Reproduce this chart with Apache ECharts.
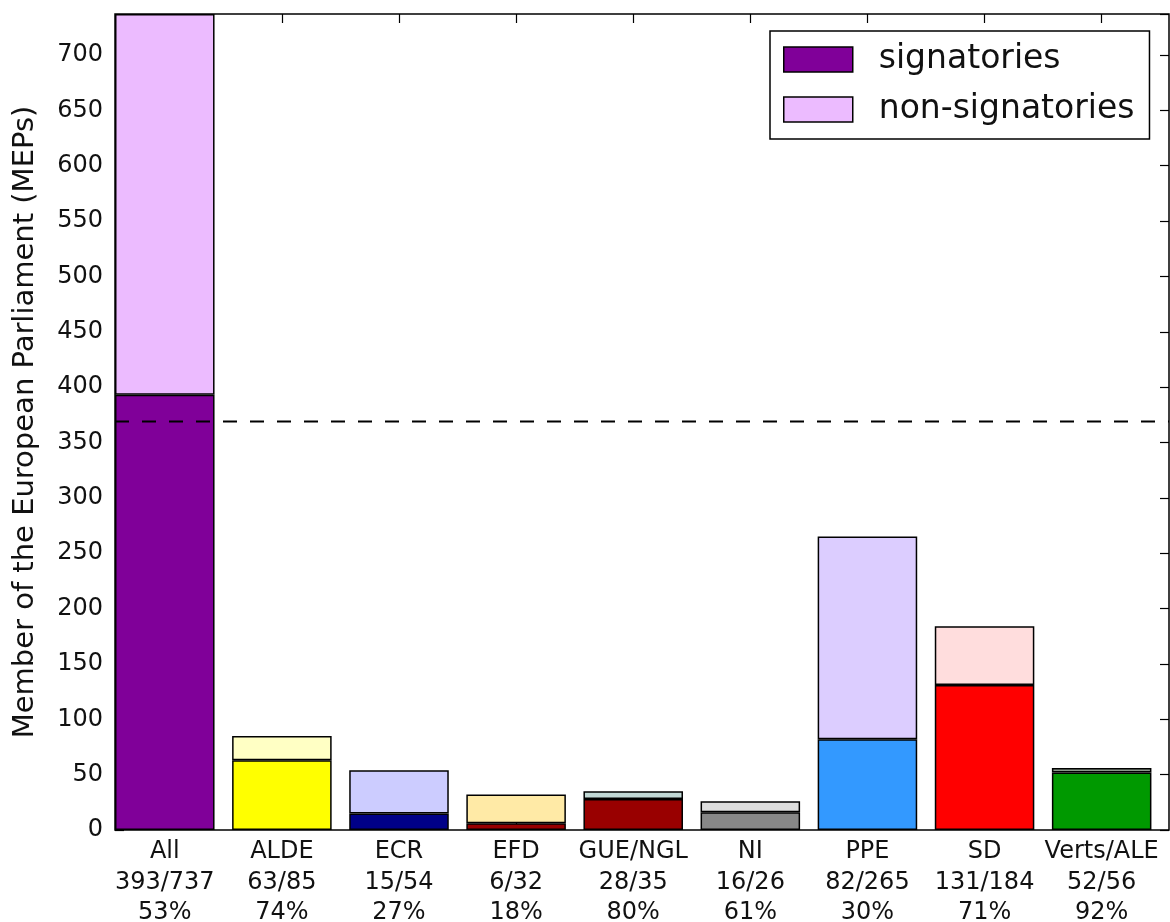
<!DOCTYPE html>
<html>
<head>
<meta charset="utf-8">
<script src="https://cdn.jsdelivr.net/npm/echarts@6/dist/echarts.min.js"></script>
<style>
html,body{margin:0;padding:0;background:#fff;}
#chart{width:1170px;height:922px;}
</style>
</head>
<body>
<div id="chart"></div>
<script>
// ---- data ----
var groups = ['All', 'ALDE', 'ECR', 'EFD', 'GUE/NGL', 'NI', 'PPE', 'SD', 'Verts/ALE'];
var signatories = [393, 63, 15, 6, 28, 16, 82, 131, 52];
var nonSignatories = [344, 22, 39, 26, 7, 10, 183, 53, 4];
var totals = [737, 85, 54, 32, 35, 26, 265, 184, 56];
var percents = [53, 74, 27, 18, 80, 61, 30, 71, 92];
var majority = 369;
var yTicks = [0, 50, 100, 150, 200, 250, 300, 350, 400, 450, 500, 550, 600, 650, 700];
var sigColors = ['#800099', '#ffff00', '#000088', '#990000', '#990000', '#888888', '#3399ff', '#ff0000', '#009900'];
var nonColors = ['#ecbbff', '#ffffc4', '#ccccff', '#ffeaa6', '#c2d9d6', '#dddddd', '#dccdff', '#ffdddd', '#8a9a8a'];

var categoryLabels = groups.map(function (g, i) {
  return g + '\n' + signatories[i] + '/' + totals[i] + '\n' + percents[i] + '%';
});

var FONT = 'DejaVu Sans';
var TXT = '#111';

var chart = echarts.init(document.getElementById('chart'), null, {renderer: 'canvas'});

var plotTop = 14, plotBottom = 830, plotLeft = 115, plotWidth = 1054;
var unit = plotWidth / 9;
var catLeft = plotLeft + 0.425 * unit - 0.5 * unit;

var option = {
  backgroundColor: '#fff',
  animation: false,
  textStyle: {fontFamily: FONT, color: TXT},
  grid: [
    {left: plotLeft, top: plotTop, width: plotWidth, height: plotBottom - plotTop,
     outerBoundsMode: 'none', containLabel: false,
     show: true, borderColor: '#000', borderWidth: 1.5, backgroundColor: 'transparent'},
    {left: catLeft, top: plotTop, width: plotWidth, height: plotBottom - plotTop,
     outerBoundsMode: 'none', containLabel: false}
  ],
  legend: {
    data: ['signatories', 'non-signatories'],
    orient: 'vertical',
    left: 770, top: 31,
    padding: [12, 15, 13, 13],
    itemWidth: 69, itemHeight: 25, itemGap: 17,
    icon: 'rect',
    backgroundColor: '#fff',
    borderColor: '#000', borderWidth: 1.5,
    itemStyle: {borderColor: '#000', borderWidth: 1.5},
    textStyle: {fontFamily: FONT, fontSize: 33, color: TXT, padding: [0, 0, 0, 21], lineHeight: 33}
  },
  xAxis: [
    {type: 'value', gridIndex: 0, min: 0, max: 9, show: false},
    {type: 'category', gridIndex: 1, position: 'bottom', data: categoryLabels,
     axisLine: {show: false},
     axisTick: {show: true, inside: true, alignWithLabel: true, length: 9, lineStyle: {color: '#000', width: 1.2}},
     axisLabel: {fontFamily: FONT, fontSize: 24, color: TXT, lineHeight: 30.5, margin: 7, interval: 0},
     splitLine: {show: false}},
    {type: 'category', gridIndex: 1, position: 'top', data: categoryLabels,
     axisLine: {show: false},
     axisTick: {show: true, inside: true, alignWithLabel: true, length: 9, lineStyle: {color: '#000', width: 1.2}},
     axisLabel: {show: false}, splitLine: {show: false}}
  ],
  yAxis: [
    {type: 'value', gridIndex: 0, position: 'left', min: 0, max: 737, interval: 50,
     name: 'Member of the European Parliament (MEPs)', nameLocation: 'middle', nameGap: 75,
     nameTextStyle: {fontFamily: FONT, fontSize: 29, color: TXT},
     axisLine: {show: false},
     axisTick: {show: true, inside: true, length: 9, lineStyle: {color: '#000', width: 1.2}},
     axisLabel: {fontFamily: FONT, fontSize: 24, color: TXT, margin: 12, showMaxLabel: false,
       formatter: function (v) { return yTicks.indexOf(v) >= 0 ? String(v) : ''; }},
     splitLine: {show: false}},
    {type: 'value', gridIndex: 0, position: 'right', min: 0, max: 737, interval: 50,
     axisLine: {show: false},
     axisTick: {show: true, inside: true, length: 9, lineStyle: {color: '#000', width: 1.2}},
     axisLabel: {show: false}, splitLine: {show: false}},
    {type: 'value', gridIndex: 1, min: 0, max: 737, show: false}
  ],
  series: [
    {name: 'signatories', type: 'bar', stack: 'mep', xAxisIndex: 1, yAxisIndex: 2,
     barWidth: '85%', z: 2,
     itemStyle: {color: sigColors[0], borderColor: '#000', borderWidth: 1.5},
     data: signatories.map(function (v, i) { return {value: v, itemStyle: {color: sigColors[i]}}; })},
    {name: 'non-signatories', type: 'bar', stack: 'mep', xAxisIndex: 1, yAxisIndex: 2,
     barWidth: '85%', z: 2,
     itemStyle: {color: nonColors[0], borderColor: '#000', borderWidth: 1.5},
     data: nonSignatories.map(function (v, i) { return {value: v, itemStyle: {color: nonColors[i]}}; })},
    {name: 'majority', type: 'line', xAxisIndex: 0, yAxisIndex: 0, z: 10,
     symbol: 'none', silent: true,
     lineStyle: {color: '#000', width: 2, type: [14, 13]},
     data: [[0, majority], [9, majority]]}
  ]
};
chart.setOption(option);
</script>
</body>
</html>
